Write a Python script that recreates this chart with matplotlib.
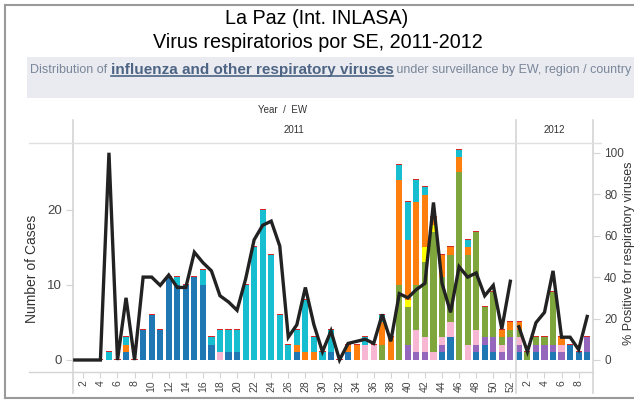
import numpy as np
import matplotlib
matplotlib.use("Agg")
import matplotlib.pyplot as plt
from matplotlib.lines import Line2D

plt.rcParams['font.family'] = ['Liberation Sans', 'DejaVu Sans']

# semanas epidemiologicas: 2011 (1-52) y 2012 (1-9)
weeks_2011 = list(range(1, 53))
weeks_2012 = list(range(1, 10))

# casos por virus, una entrada por semana (52 + 9)
blue = [0, 0, 0, 0, 0, 0, 1, 0, 4, 6, 4, 11, 10, 10, 11, 10, 2, 0, 1, 1,
        0, 0, 0, 0, 0, 0, 1, 0, 0, 0, 1, 0, 1, 0, 0, 0, 0, 0, 0, 0,
        0, 0, 0, 1, 3, 0, 0, 1, 2, 1, 0, 0,
        1, 0, 1, 0, 1, 0, 2, 1, 1]
purple = [0, 0, 0, 0, 0, 0, 0, 0, 0, 0, 0, 0, 0, 0, 0, 0, 0, 0, 0, 0,
          0, 0, 0, 0, 0, 0, 0, 0, 0, 0, 0, 0, 0, 0, 0, 0, 0, 0, 0, 2,
          1, 1, 0, 1, 0, 0, 0, 1, 1, 2, 1, 3,
          1, 0, 1, 2, 1, 1, 0, 0, 2]
pink = [0, 0, 0, 0, 0, 0, 0, 0, 0, 0, 0, 0, 0, 0, 0, 0, 0, 1, 0, 0,
        0, 0, 0, 0, 0, 0, 0, 0, 0, 0, 0, 0, 0, 0, 2, 2, 0, 0, 0, 0,
        3, 2, 1, 1, 2, 0, 2, 2, 0, 0, 1, 0,
        1, 0, 0, 0, 0, 1, 0, 0, 0]
green = [0, 0, 0, 0, 0, 0, 0, 0, 0, 0, 0, 0, 0, 0, 0, 0, 0, 0, 0, 0,
         0, 0, 0, 0, 0, 0, 0, 0, 0, 0, 0, 0, 0, 0, 0, 0, 2, 0, 10, 5,
         6, 10, 16, 8, 9, 25, 12, 13, 4, 6, 1, 1,
         1, 1, 1, 1, 7, 0, 0, 0, 0]
yellow = [0, 0, 0, 0, 0, 0, 0, 0, 0, 0, 0, 0, 0, 0, 0, 0, 0, 0, 0, 0,
          0, 0, 0, 0, 0, 0, 0, 0, 0, 0, 0, 0, 0, 0, 0, 0, 0, 0, 0, 1,
          0, 2, 1, 0, 0, 0, 0, 0, 0, 0, 0, 0,
          0, 0, 0, 0, 0, 0, 0, 0, 0]
orange = [0, 0, 0, 0, 0, 0, 1, 0, 0, 0, 0, 0, 0, 0, 0, 0, 0, 0, 0, 0,
          0, 0, 0, 0, 0, 0, 1, 1, 1, 0, 0, 0, 1, 2, 0, 0, 3, 3, 14, 8,
          11, 7, 1, 3, 1, 2, 1, 0, 0, 0, 1, 1,
          1, 0, 0, 0, 0, 1, 0, 0, 0]
cyan = [0, 0, 0, 0, 1, 0, 1, 0, 0, 0, 0, 0, 1, 0, 0, 2, 1, 3, 3, 3,
        10, 15, 20, 14, 6, 2, 2, 7, 2, 1, 3, 0, 0, 0, 1, 0, 1, 0, 2, 5,
        3, 1, 0, 0, 0, 1, 1, 0, 0, 0, 0, 0,
        0, 0, 0, 0, 0, 0, 0, 0, 0]

# % positivos
pct_2011 = [0, 0, 0, 0, 100, 0, 30, 0, 40, 40, 36, 41, 35, 35, 52, 47, 43, 31, 28, 24,
            39, 58, 65, 67, 55, 11, 17, 35, 17, 4, 14, 0, 8, 9, 10, 8, 22, 9, 32, 30,
            34, 37, 76, 37, 23, 45, 40, 42, 31, 36, 15, 38]
pct_2012 = [16, 4, 18, 23, 43, 11, 11, 5, 21]

series = [(blue, '#1f77b4'), (purple, '#9467bd'), (pink, '#f7b6d2'),
          (green, '#7ea63c'), (yellow, '#ffff00'), (orange, '#ff7f0e'),
          (cyan, '#17becf')]


def draw():
    W, H = 634, 401
    fig = plt.figure(figsize=(W / 100, H / 100), dpi=100)
    grey = '#d4d4d4'

    # marco exterior
    fig.add_artist(Line2D([5 / W, 5 / W], [3 / H, 396 / H], color='#9a9a9a', lw=1.5))
    fig.add_artist(Line2D([5 / W, 1], [396 / H, 396 / H], color='#9a9a9a', lw=1.5))
    fig.add_artist(Line2D([5 / W, 1], [3 / H, 3 / H], color='#9a9a9a', lw=1.5))

    fig.text(317 / W, 1 - 18 / H, 'La Paz (Int. INLASA)', ha='center', va='center', fontsize=14.2)
    fig.text(318 / W, 1 - 43 / H, 'Virus respiratorios por SE, 2011-2012', ha='center', va='center', fontsize=14.2)

    # banda gris con subtitulo
    fig.add_artist(plt.Rectangle((27 / W, 1 - 98 / H), 1, 41 / H, color='#e9ebf0', lw=0))
    r = fig.canvas.get_renderer()
    t1 = fig.text(30 / W, 1 - 70 / H, 'Distribution of ', fontsize=9, color='#7a8699', va='center')
    x = t1.get_window_extent(r).x1 / W
    t2 = fig.text(x, 1 - 70 / H, 'influenza and other respiratory viruses', fontsize=11,
                  fontweight='bold', color='#4d6484', va='center')
    bb = t2.get_window_extent(r)
    fig.add_artist(Line2D([bb.x0 / W, bb.x1 / W], [(bb.y0 + 1) / H] * 2, color='#4d6484', lw=1.2))
    fig.text(bb.x1 / W, 1 - 70 / H, ' under surveillance by EW, region / country', fontsize=9,
             color='#7a8699', va='center')

    fig.text(283 / W, 1 - 110 / H, 'Year  /  EW', ha='center', va='center', fontsize=7, color='#333333')

    ax = fig.add_axes([73 / W, (H - 372) / H, 520 / W, 229 / H])
    n = len(blue)
    xs = np.arange(n)
    bottom = np.zeros(n)
    for vals, col in series:
        v = np.array(vals, dtype=float)
        ax.bar(xs, v, 0.72, bottom=bottom, color=col, lw=0)
        bottom += v
    ax.bar(xs, 0.18, 0.72, bottom=bottom, color='#d62728', lw=0)

    xmin, xmax = -0.21, 60.68
    ax.set_xlim(xmin, xmax)
    ax.set_ylim(-1.6, 28.93)
    ax.set_yticks([0, 10, 20])
    ax.tick_params(axis='y', length=5, color=grey, labelsize=9.5, labelcolor='#444444', pad=3)
    ticks = [w - 1 for w in weeks_2011 if w % 2 == 0] + [52 + w - 1 for w in weeks_2012 if w % 2 == 0]
    labels = [str(w) for w in weeks_2011 if w % 2 == 0] + [str(w) for w in weeks_2012 if w % 2 == 0]
    ax.set_xticks(ticks)
    ax.set_xticklabels(labels, rotation=90, fontsize=7.5, color='#444444')
    ax.tick_params(axis='x', length=4, color=grey, pad=2)
    for s in ax.spines.values():
        s.set_visible(False)
    ax.set_ylabel('Number of Cases', fontsize=10, color='#333333')
    ax.yaxis.set_label_coords(-0.066, 0.45)

    ax2 = ax.twinx()
    ax2.plot(np.arange(52), pct_2011, color='#222222', lw=2.4, solid_joinstyle='miter')
    ax2.plot(np.arange(52, 61), pct_2012, color='#222222', lw=2.4, solid_joinstyle='miter')
    ax2.set_ylim(-5.79, 104.7)
    ax2.set_yticks(range(0, 101, 20))
    ax2.tick_params(axis='y', length=5, color=grey, labelsize=8.5, labelcolor='#444444', pad=3)
    for s in ax2.spines.values():
        s.set_visible(False)
    ax2.set_ylabel('% Positive for respiratory viruses', fontsize=9, color='#333333')
    ax2.yaxis.set_label_coords(1.058, 0.52)

    # lineas de cabecera y separador de años
    div = 51.63
    tr = ax.get_xaxis_transform()
    for xv in (xmin, div, xmax):
        ax.plot([xv, xv], [-0.09, 1.1], transform=tr, color=grey, lw=1.2, clip_on=False)
    ax.plot([xmin - 5.1, xmax], [0, 0], transform=tr, color=grey, lw=1, clip_on=False)
    ax.plot([xmin - 5.1, xmax + 0.9], [1, 1], transform=tr, color='#e0e0e0', lw=1, clip_on=False)
    ax.text((xmin + div) / 2, 1.055, '2011', transform=tr, ha='center', va='center', fontsize=7, color='#333333')
    ax.text((div + xmax) / 2, 1.055, '2012', transform=tr, ha='center', va='center', fontsize=7, color='#333333')

    fig.savefig('out.png', dpi=100)


if __name__ == "__main__":
    draw()
